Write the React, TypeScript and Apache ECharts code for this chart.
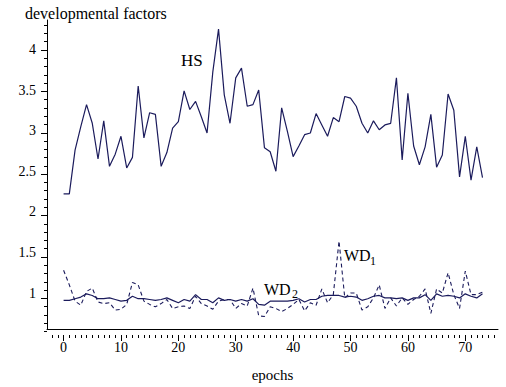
import React, { useEffect, useRef } from "react";
import * as echarts from "echarts";

const epochs = Array.from({ length: 74 }, (_, i) => i);

const hsValues = [
  2.22, 2.22, 2.76, 3.05, 3.32, 3.09, 2.65, 3.12, 2.56, 2.71,
  2.93, 2.54, 2.67, 3.55, 2.91, 3.22, 3.2, 2.56, 2.73, 3.03,
  3.11, 3.49, 3.26, 3.36, 3.17, 2.97, 3.72, 4.25, 3.44, 3.09,
  3.65, 3.77, 3.3, 3.32, 3.5, 2.79, 2.74, 2.5, 3.28, 2.99,
  2.68, 2.81, 2.95, 2.97, 3.21, 3.07, 2.93, 3.16, 3.11, 3.42,
  3.4, 3.3, 3.09, 2.97, 3.12, 3.01, 3.07, 3.09, 3.65, 2.64,
  3.46, 2.81, 2.58, 2.8, 3.2, 2.55, 2.7, 3.45, 3.25, 2.43,
  2.93, 2.39, 2.8, 2.42,
];

const wd1Values = [
  1.28, 1.1, 0.9, 0.85, 1.02, 1.06, 0.89, 0.87, 0.88, 0.79,
  0.8, 0.86, 1.13, 1.1, 0.9, 0.86, 0.83, 0.87, 0.92, 0.81,
  0.83, 0.84, 0.81, 0.96, 0.87, 0.84, 0.8, 0.9, 0.92, 0.92,
  0.81, 0.87, 0.84, 1.06, 0.72, 0.71, 0.83, 0.81, 0.77, 0.81,
  0.86, 0.92, 0.78, 0.88, 0.85, 1.05, 0.88, 0.98, 1.64, 0.94,
  1.0, 1.0, 0.79, 0.83, 0.94, 1.1, 0.81, 0.94, 0.84, 0.94,
  0.86, 0.92, 0.96, 1.05, 0.75, 1.05, 1.0, 1.25, 0.98, 0.81,
  1.27, 0.98, 0.98, 1.01,
];

const wd2Values = [
  0.91, 0.91, 0.93, 0.95, 0.99, 0.97, 0.93, 0.93, 0.94, 0.92,
  0.9, 0.91, 0.96, 0.93, 0.93, 0.92, 0.91, 0.92, 0.94, 0.91,
  0.88, 0.92, 0.9, 0.98, 0.92, 0.92, 0.88, 0.94, 0.91, 0.92,
  0.9, 0.92, 0.9, 0.93, 0.86, 0.85, 0.9, 0.9, 0.9, 0.9,
  0.91, 0.93, 0.89, 0.92, 0.92, 0.96, 0.97, 0.97, 0.97, 0.95,
  0.96, 0.95, 0.91, 0.93, 0.96, 0.97, 0.94, 0.94, 0.93, 0.94,
  0.91, 0.94, 0.94, 0.98, 0.91, 0.99, 0.96, 0.97, 0.96, 0.94,
  0.99, 0.96, 0.94, 0.99,
];

const xTickLabels = [0, 10, 20, 30, 40, 50, 60, 70];
const yTickLabels = [1, 1.5, 2, 2.5, 3, 3.5, 4];

// axis extents and tick ranges
const X_MIN = -2.89;
const X_MAX = 75.7;
const Y_MIN = 0.557;
const Y_MAX = 4.362;
const X_MAJOR = { min: 0, max: 70, step: 10 };
const X_MINOR = { min: -2, max: 75, step: 1 };
const Y_MAJOR = { min: 1, max: 4, step: 0.5 };
const Y_MINOR = { min: 0.6, max: 4.3, step: 0.1 };

const W = 506;
const H = 387;
const G = { left: 47, right: 8, top: 20, bottom: 52 };

const LINE = "#1b1b5c";
const FONT = "'Liberation Serif', 'Times New Roman', serif";

export default function App() {
  const ref = useRef<HTMLDivElement>(null);
  useEffect(() => {
    if (!ref.current) return;
    const chart = echarts.init(ref.current, undefined, { renderer: "svg" });
    const pairs = (vals: number[]) => vals.map((v, i) => [epochs[i], v]);

    const xs = (W - G.left - G.right) / (X_MAX - X_MIN);
    const ys = (H - G.top - G.bottom) / (Y_MAX - Y_MIN);

    const grids = [
      { ...G },
      // x major tick grid
      { left: G.left + (X_MAJOR.min - X_MIN) * xs, right: G.right + (X_MAX - X_MAJOR.max) * xs, top: G.top, bottom: G.bottom },
      // x minor tick grid
      { left: G.left + (X_MINOR.min - X_MIN) * xs, right: G.right + (X_MAX - X_MINOR.max) * xs, top: G.top, bottom: G.bottom },
      // y major tick grid
      { left: G.left, right: G.right, top: G.top + (Y_MAX - Y_MAJOR.max) * ys, bottom: G.bottom + (Y_MAJOR.min - Y_MIN) * ys },
      // y minor tick grid
      { left: G.left, right: G.right, top: G.top + (Y_MAX - Y_MINOR.max) * ys, bottom: G.bottom + (Y_MINOR.min - Y_MIN) * ys },
    ];

    const hiddenX = (gi: number) => ({ type: "value", gridIndex: gi, show: false, min: 0, max: 1 });
    const hiddenY = (gi: number) => ({ type: "value", gridIndex: gi, show: false, min: 0, max: 1 });
    const tickX = (gi: number, r: { min: number; max: number; step: number }, len: number) => ({
      type: "value",
      gridIndex: gi,
      position: "bottom",
      min: r.min,
      max: r.max,
      interval: r.step,
      axisLine: { show: false, onZero: false },
      splitLine: { show: false },
      axisLabel: { show: false },
      axisTick: { show: true, length: len, inside: false, lineStyle: { color: "#000", width: 1 } },
    });
    const tickY = (gi: number, r: { min: number; max: number; step: number }, len: number) => ({
      type: "value",
      gridIndex: gi,
      position: "left",
      min: r.min,
      max: r.max,
      interval: r.step,
      axisLine: { show: false, onZero: false },
      splitLine: { show: false },
      axisLabel: { show: false },
      axisTick: { show: true, length: len, inside: false, lineStyle: { color: "#000", width: 1 } },
    });

    chart.setOption({
      animation: false,
      backgroundColor: "#fff",
      textStyle: { fontFamily: FONT },
      title: {
        text: "developmental factors",
        left: 20,
        top: 0,
        textStyle: { fontFamily: FONT, fontSize: 16, fontWeight: "normal", color: "#000" },
      },
      grid: grids,
      xAxis: [
        {
          type: "value",
          gridIndex: 0,
          min: X_MIN,
          max: X_MAX,
          position: "bottom",
          axisLine: { show: true, onZero: false, lineStyle: { color: "#000", width: 1 } },
          splitLine: { show: false },
          axisTick: { show: false },
          axisLabel: { show: true, customValues: xTickLabels, fontSize: 14, color: "#000", fontFamily: FONT, margin: 11 },
          name: "epochs",
          nameLocation: "middle",
          nameGap: 38,
          nameTextStyle: { fontSize: 15, color: "#000", fontFamily: FONT },
        },
        tickX(1, X_MAJOR, 6),
        tickX(2, X_MINOR, 3),
        hiddenX(3),
        hiddenX(4),
      ],
      yAxis: [
        {
          type: "value",
          gridIndex: 0,
          min: Y_MIN,
          max: Y_MAX,
          position: "left",
          axisLine: { show: true, onZero: false, lineStyle: { color: "#000", width: 1 } },
          splitLine: { show: false },
          axisTick: { show: false },
          axisLabel: { show: true, customValues: yTickLabels, fontSize: 14, color: "#000", fontFamily: FONT, margin: 11 },
        },
        hiddenY(1),
        hiddenY(2),
        tickY(3, Y_MAJOR, 6),
        tickY(4, Y_MINOR, 3),
      ],
      series: [
        {
          name: "HS",
          type: "line",
          xAxisIndex: 0,
          yAxisIndex: 0,
          data: pairs(hsValues),
          showSymbol: false,
          symbol: "none",
          lineStyle: { color: LINE, width: 1.2 },
        },
        {
          name: "WD1",
          type: "line",
          xAxisIndex: 0,
          yAxisIndex: 0,
          data: pairs(wd1Values),
          showSymbol: false,
          symbol: "none",
          lineStyle: { color: LINE, width: 1.1, type: [4, 3] },
        },
        {
          name: "WD2",
          type: "line",
          xAxisIndex: 0,
          yAxisIndex: 0,
          data: pairs(wd2Values),
          showSymbol: false,
          symbol: "none",
          lineStyle: { color: LINE, width: 1.2 },
        },
      ],
      graphic: [
        { type: "text", left: 181, top: 52, style: { text: "HS", font: `17px ${FONT}`, fill: "#000" } },
        { type: "text", left: 344, top: 247, style: { text: "WD", font: `16px ${FONT}`, fill: "#000" } },
        { type: "text", left: 370, top: 255, style: { text: "1", font: `12px ${FONT}`, fill: "#000" } },
        { type: "text", left: 264, top: 281, style: { text: "WD", font: `16px ${FONT}`, fill: "#000" } },
        { type: "text", left: 292, top: 288, style: { text: "2", font: `12px ${FONT}`, fill: "#000" } },
      ],
    });
    return () => chart.dispose();
  }, []);
  return <div ref={ref} style={{ position: "fixed", left: 0, top: 0, width: W, height: H }} />;
}
